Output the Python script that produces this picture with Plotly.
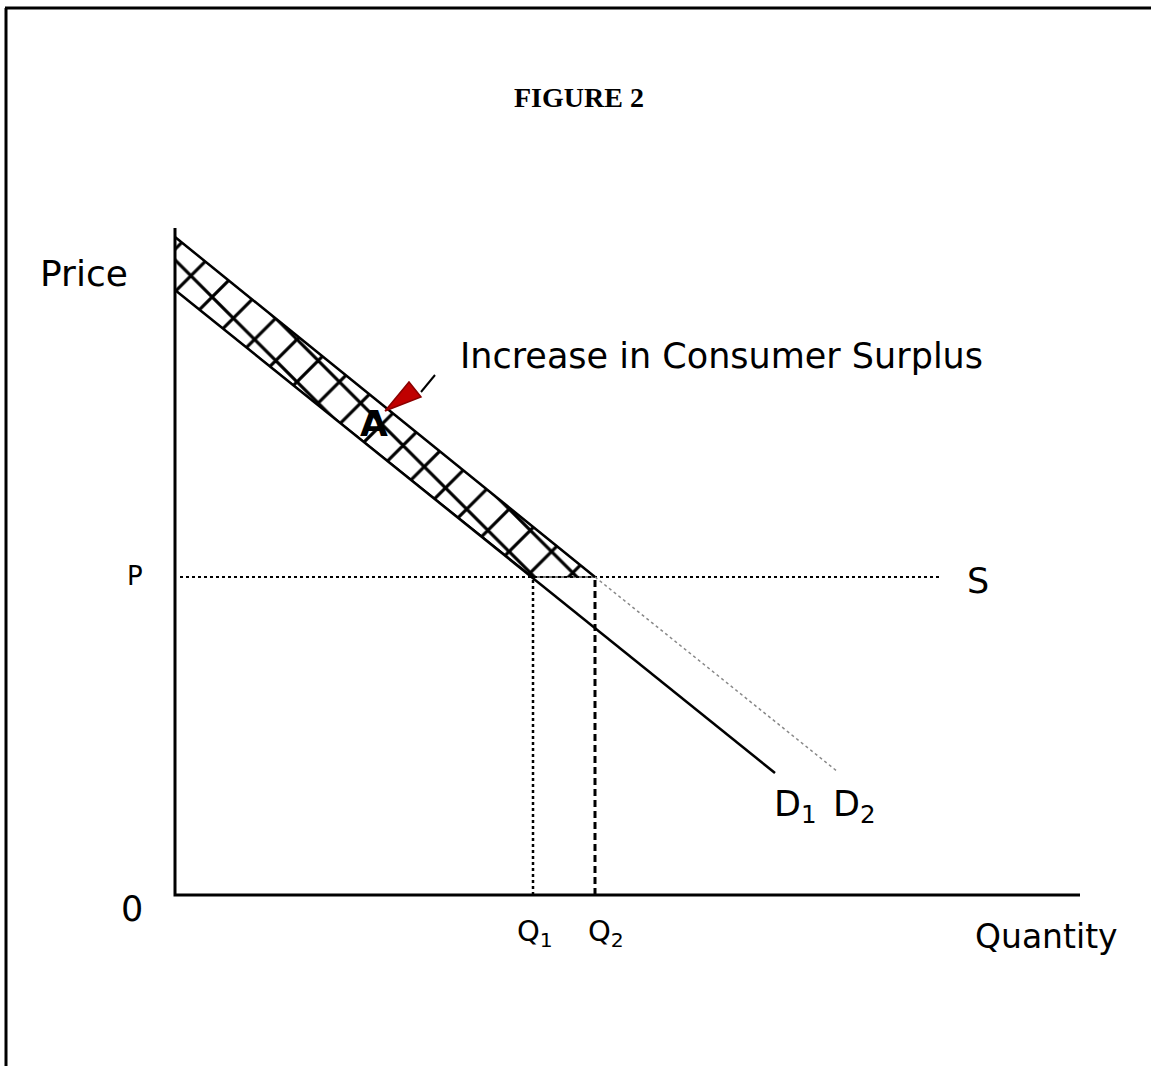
import plotly.graph_objects as go

# ---- data (abstract units: quantity on x, price on y) ----
d1_q = [0, 60.0]
d1_p = [60.5, 12.2]
d2_q = [0, 42.0, 66.3]
d2_p = [65.8, 31.8, 12.3]
price_p = 31.8
q1 = 35.8
q2 = 42.0
s_q = [0.5, 76.5]
x_axis_max = 90.5
y_axis_max = 66.7

FONT = "DejaVu Sans"

fig = go.Figure()

# shaded increase in consumer surplus (between D1 and D2 above P)
band_x = [d2_q[0], d2_q[1], q1, d1_q[0], d2_q[0]]
band_y = [d2_p[0], d2_p[1], price_p, d1_p[0], d2_p[0]]
fig.add_trace(go.Scatter(
    x=band_x, y=band_y, mode="lines", fill="toself",
    fillcolor="white",
    fillpattern=dict(shape="x", size=30, solidity=0.2, fgcolor="black", bgcolor="white", fgopacity=1),
    line=dict(color="black", width=1.2), hoverinfo="skip"))

# axes
fig.add_trace(go.Scatter(x=[0, 0, x_axis_max], y=[y_axis_max, 0, 0], mode="lines",
                         line=dict(color="black", width=3), hoverinfo="skip"))

# supply line at P
fig.add_trace(go.Scatter(x=s_q, y=[price_p, price_p], mode="lines",
                         line=dict(color="black", width=2, dash="dot"), hoverinfo="skip"))

# Q1 and Q2 verticals
fig.add_trace(go.Scatter(x=[q1, q1], y=[0, price_p], mode="lines",
                         line=dict(color="black", width=2.5, dash="dot"), hoverinfo="skip"))
fig.add_trace(go.Scatter(x=[q2, q2], y=[0, price_p], mode="lines",
                         line=dict(color="black", width=3, dash="7px,4px"), hoverinfo="skip"))

# D2: solid above P, dotted gray below
fig.add_trace(go.Scatter(x=d2_q[:2], y=d2_p[:2], mode="lines",
                         line=dict(color="black", width=2.5), hoverinfo="skip"))
fig.add_trace(go.Scatter(x=d2_q[1:], y=d2_p[1:], mode="lines",
                         line=dict(color="#888888", width=1.5, dash="dot"), hoverinfo="skip"))

# D1
fig.add_trace(go.Scatter(x=d1_q, y=d1_p, mode="lines",
                         line=dict(color="black", width=2.5), hoverinfo="skip"))

# arrow: black tail + red head
fig.add_trace(go.Scatter(x=[24.6, 26.0], y=[50.3, 52.0], mode="lines",
                         line=dict(color="black", width=2), hoverinfo="skip"))
fig.add_trace(go.Scatter(x=[21.0, 23.4, 24.6, 21.0], y=[48.4, 51.3, 49.8, 48.4], mode="lines",
                         fill="toself", fillcolor="#c00000",
                         line=dict(color="#8b0000", width=1.5), hoverinfo="skip"))

def txt(x, y, s, size=30, xanchor="left", yanchor="middle", family=FONT, **kw):
    fig.add_annotation(x=x, y=y, text=s, showarrow=False, xanchor=xanchor, yanchor=yanchor,
                       font=dict(family=family, size=size, color="black"), **kw)

txt(-13.7, 62.2, "Price", size=36)
txt(28.3, 53.9, "Increase in Consumer Surplus", size=35)
txt(19.9, 47.2, "<b>A</b>", size=36, xanchor="center")
txt(-4.0, price_p + 0.1, "P", size=26, xanchor="center")
txt(80.3, price_p - 0.4, "S", size=35, xanchor="center")
txt(-4.3, -1.4, "0", size=35, xanchor="center")
txt(q1 + 0.2, -3.8, "Q<sub>1</sub>", size=29, xanchor="center")
txt(q2 + 1.1, -3.8, "Q<sub>2</sub>", size=29, xanchor="center")
txt(62.0, 8.9, "D<sub>1</sub>", size=35, xanchor="center")
txt(67.9, 8.9, "D<sub>2</sub>", size=35, xanchor="center")
txt(87.1, -4.1, "Quantity", size=33, xanchor="center")

fig.add_annotation(x=0.503, y=1 - 97 / 1066, xref="paper", yref="paper", text="<b>FIGURE 2</b>",
                   showarrow=False, xanchor="center", yanchor="middle",
                   font=dict(family="Liberation Serif", size=28, color="black"))

# frame
fig.add_shape(type="line", xref="paper", yref="paper", x0=5 / 1151, x1=1, y0=1 - 8 / 1066, y1=1 - 8 / 1066,
              line=dict(color="black", width=3))
fig.add_shape(type="line", xref="paper", yref="paper", x0=6 / 1151, x1=6 / 1151, y0=0, y1=1 - 8 / 1066,
              line=dict(color="black", width=3))

fig.update_layout(
    width=1151, height=1066, margin=dict(l=0, r=0, t=0, b=0),
    paper_bgcolor="white", plot_bgcolor="white", showlegend=False,
    xaxis=dict(range=[-17.5, 97.6], visible=False, fixedrange=True),
    yaxis=dict(range=[-17.1, 89.5], visible=False, fixedrange=True),
)

fig.write_html("out.html", config={"displayModeBar": False},
               post_script="document.body.style.margin='0';document.body.style.overflow='hidden';")
